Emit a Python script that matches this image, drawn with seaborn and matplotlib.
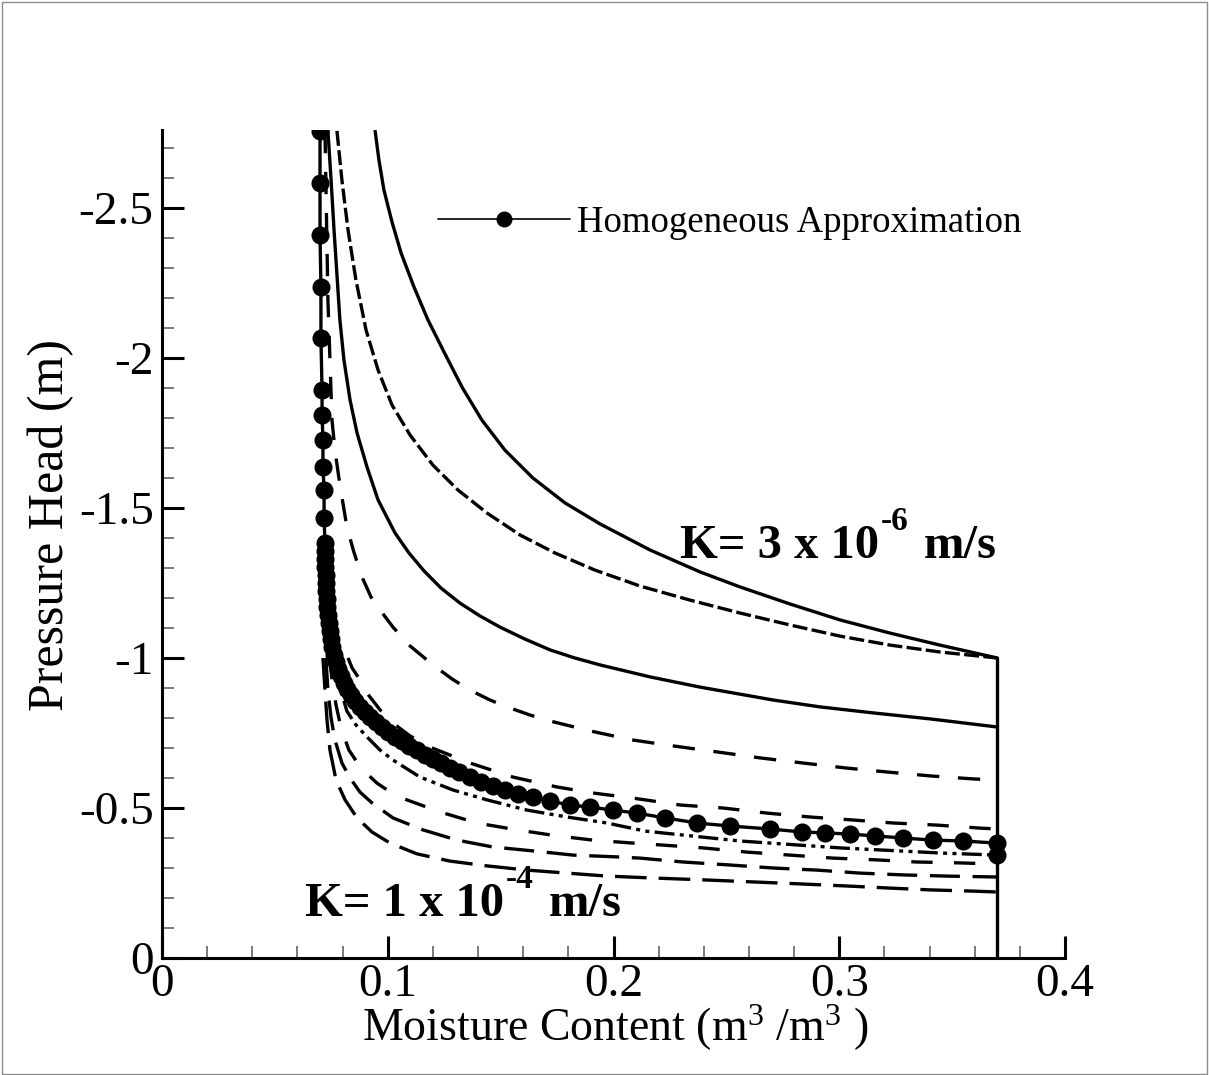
import matplotlib
matplotlib.use("Agg")
import matplotlib.pyplot as plt
import seaborn as sns
from matplotlib.ticker import MultipleLocator, FixedLocator, FixedFormatter
from matplotlib.lines import Line2D
from matplotlib.patches import Rectangle

# ---------------- data ----------------
xticks = [0.0, 0.1, 0.2, 0.3, 0.4]
xtick_labels = ["0", "0.1", "0.2", "0.3", "0.4"]
yticks = [0.0, -0.5, -1.0, -1.5, -2.0, -2.5]
ytick_labels = ["0", "-0.5", "-1", "-1.5", "-2", "-2.5"]

# K = 3e-6 group (upper curves)
s1_x = [0.0944, 0.0961, 0.0983, 0.1019, 0.1059, 0.1116, 0.1178, 0.1254, 0.1329, 0.1417, 0.1519, 0.1643,
        0.1785, 0.1940, 0.2162, 0.2383, 0.2560, 0.2782, 0.3003, 0.3225, 0.3446, 0.3700]
s1_y = [-2.757, -2.66, -2.56, -2.453, -2.35, -2.237, -2.127, -2.013, -1.903, -1.793, -1.693, -1.6,
        -1.517, -1.447, -1.36, -1.287, -1.237, -1.18, -1.127, -1.083, -1.043, -1.0]

d1_x = [0.0775, 0.0797, 0.0824, 0.0859, 0.0904, 0.0957, 0.1019, 0.1099, 0.1200, 0.1311, 0.1440, 0.1586,
        0.1741, 0.1918, 0.2117, 0.2339, 0.2560, 0.2782, 0.3003, 0.3225, 0.3446, 0.3700]
d1_y = [-2.757, -2.593, -2.427, -2.26, -2.093, -1.96, -1.843, -1.743, -1.643, -1.56, -1.483, -1.41,
        -1.35, -1.293, -1.24, -1.193, -1.15, -1.11, -1.073, -1.043, -1.02, -1.0]

s2_x = [0.0735, 0.0749, 0.0762, 0.0775, 0.0788, 0.0806, 0.0833, 0.0864, 0.0908, 0.0957, 0.1032, 0.1094,
        0.1161, 0.1236, 0.1320, 0.1409, 0.1497, 0.1608, 0.1719, 0.1829, 0.1940, 0.2051, 0.2162, 0.2383,
        0.2707, 0.2915, 0.3150, 0.3402, 0.3700]
s2_y = [-2.757, -2.593, -2.427, -2.277, -2.127, -1.993, -1.86, -1.75, -1.637, -1.527, -1.417, -1.35,
        -1.29, -1.233, -1.183, -1.14, -1.103, -1.063, -1.027, -1.0, -0.977, -0.957, -0.937, -0.903,
        -0.86, -0.837, -0.817, -0.797, -0.77]

d2_x = [0.0722, 0.0735, 0.0744, 0.0753, 0.0766, 0.0788, 0.0819, 0.0850, 0.0886, 0.0926, 0.0966, 0.1023,
        0.1099, 0.1200, 0.1285, 0.1364, 0.1453, 0.1528, 0.1630, 0.1719, 0.1896, 0.2082, 0.2264, 0.2458,
        0.2649, 0.2839, 0.3034, 0.3212, 0.3402, 0.3592, 0.3700]
d2_y = [-2.757, -2.193, -1.993, -1.793, -1.693, -1.577, -1.437, -1.353, -1.27, -1.203, -1.16, -1.103,
        -1.04, -0.977, -0.93, -0.893, -0.86, -0.837, -0.81, -0.79, -0.757, -0.727, -0.707, -0.687,
        -0.667, -0.65, -0.633, -0.62, -0.607, -0.597, -0.593]

# K = 1e-4 group (lower curves)
d3_x = [0.0824, 0.0842, 0.0877, 0.0908, 0.0966, 0.1023, 0.1099, 0.1187, 0.1364, 0.1555, 0.1750, 0.1909, 0.2086,
        0.2295, 0.2485, 0.2680, 0.2870, 0.3061, 0.3238, 0.3433, 0.3623, 0.3700]
d3_y = [-1.0, -0.967, -0.927, -0.883, -0.827, -0.783, -0.74, -0.703, -0.65, -0.603, -0.57, -0.55, -0.533,
        -0.51, -0.5, -0.483, -0.47, -0.46, -0.45, -0.443, -0.433, -0.43]

dd_x = [0.0762, 0.0780, 0.0802, 0.0819, 0.0859, 0.0908, 0.0966, 0.1023, 0.1143, 0.1289, 0.1440, 0.1617, 0.1794,
        0.1971, 0.2140, 0.2560, 0.3003, 0.3446, 0.3700]
dd_y = [-1.0, -0.927, -0.867, -0.823, -0.777, -0.737, -0.693, -0.66, -0.603, -0.56, -0.527, -0.493, -0.47,
        -0.45, -0.423, -0.39, -0.367, -0.35, -0.343]

d4_x = [0.0744, 0.0753, 0.0771, 0.0793, 0.0828, 0.0882, 0.0952, 0.1032, 0.1085, 0.1231, 0.1395, 0.1573, 0.1750,
        0.1909, 0.2086, 0.2206, 0.2396, 0.2591, 0.2782, 0.2972, 0.3167, 0.3344, 0.3535, 0.3700]
d4_y = [-1.0, -0.927, -0.843, -0.767, -0.693, -0.633, -0.583, -0.543, -0.527, -0.487, -0.45, -0.427, -0.407,
        -0.393, -0.383, -0.377, -0.367, -0.353, -0.343, -0.333, -0.327, -0.32, -0.317, -0.313]

d5_x = [0.0726, 0.0735, 0.0749, 0.0766, 0.0797, 0.0833, 0.0877, 0.0930, 0.1023, 0.1156, 0.1307, 0.1466, 0.1643,
        0.1821, 0.2016, 0.2117, 0.2308, 0.2516, 0.2707, 0.2901, 0.3092, 0.3282, 0.3477, 0.3700]
d5_y = [-1.0, -0.893, -0.8, -0.727, -0.65, -0.6, -0.553, -0.517, -0.467, -0.427, -0.393, -0.37, -0.357,
        -0.343, -0.337, -0.333, -0.32, -0.31, -0.3, -0.293, -0.283, -0.277, -0.273, -0.27]

d6_x = [0.0713, 0.0722, 0.0731, 0.0744, 0.0771, 0.0811, 0.0864, 0.0930, 0.1010, 0.1130, 0.1276, 0.1440, 0.1617,
        0.1794, 0.1971, 0.2162, 0.2414, 0.2636, 0.2826, 0.3034, 0.3225, 0.3402, 0.3592, 0.3700]
d6_y = [-1.0, -0.893, -0.793, -0.693, -0.593, -0.527, -0.467, -0.42, -0.383, -0.347, -0.323, -0.307, -0.293,
        -0.283, -0.273, -0.267, -0.26, -0.253, -0.247, -0.24, -0.233, -0.227, -0.223, -0.22]

# outlet boundary
wall_x = [0.37, 0.37]
wall_y = [0.0, -1.0]

# Homogeneous approximation (markers)
homog_x = [0.0700, 0.0700, 0.0700, 0.0704, 0.0704, 0.0709, 0.0709, 0.0713, 0.0713, 0.0718, 0.0718,
           0.0722, 0.0722, 0.0722, 0.0722, 0.0726, 0.0726, 0.0726, 0.0731, 0.0731, 0.0735, 0.0740,
           0.0744, 0.0749, 0.0753, 0.0762, 0.0771, 0.0780, 0.0793, 0.0806, 0.0819, 0.0837, 0.0855,
           0.0877, 0.0899, 0.0921, 0.0948, 0.0975, 0.1001, 0.1032, 0.1063, 0.1094, 0.1130, 0.1165,
           0.1200, 0.1236, 0.1276, 0.1316, 0.1364, 0.1413, 0.1466, 0.1519, 0.1577, 0.1643, 0.1719,
           0.1807, 0.1896, 0.1998, 0.2104, 0.2228, 0.2370, 0.2516, 0.2693, 0.2835, 0.2937, 0.3048,
           0.3158, 0.3282, 0.3415, 0.3548, 0.3700, 0.3700]
homog_y = [-2.757, -2.583, -2.41, -2.237, -2.067, -1.893, -1.81, -1.727, -1.637, -1.56, -1.467,
           -1.383, -1.357, -1.33, -1.303, -1.277, -1.25, -1.223, -1.197, -1.17, -1.143, -1.117,
           -1.09, -1.063, -1.037, -1.01, -0.987, -0.963, -0.94, -0.917, -0.897, -0.877, -0.857,
           -0.837, -0.82, -0.803, -0.787, -0.77, -0.753, -0.737, -0.723, -0.707, -0.693, -0.677,
           -0.663, -0.65, -0.633, -0.62, -0.603, -0.587, -0.573, -0.56, -0.547, -0.537, -0.523,
           -0.51, -0.503, -0.493, -0.483, -0.467, -0.45, -0.44, -0.43, -0.42, -0.417, -0.413,
           -0.407, -0.4, -0.393, -0.39, -0.383, -0.343]

legend_label = "Homogeneous Approximation"
xlabel = "Moisture Content (m$^3$ /m$^3$ )"
ylabel = "Pressure Head (m)"

# ---------------- style ----------------
sns.set_style("white")
plt.rcParams["font.family"] = ["Liberation Serif", "DejaVu Serif"]
plt.rcParams["mathtext.fontset"] = "custom"
plt.rcParams["mathtext.rm"] = "Liberation Serif"
plt.rcParams["mathtext.it"] = "Liberation Serif:italic"
plt.rcParams["mathtext.bf"] = "Liberation Serif:bold"
plt.rcParams["axes.unicode_minus"] = False
for key in ["text.color", "axes.labelcolor", "xtick.color", "ytick.color", "axes.edgecolor"]:
    plt.rcParams[key] = "black"

W, H = 1209, 1075
fig = plt.figure(figsize=(W / 100, H / 100), dpi=100)
fig.patch.set_facecolor("white")
ax = fig.add_axes([162 / W, (H - 958) / H, (1065 - 162) / W, (958 - 130) / H])
ax.set_facecolor("white")

LW = 2.4


def curve(x, y, ls, **kw):
    sns.lineplot(x=x, y=y, ax=ax, sort=False, estimator=None, color="black",
                 linewidth=LW, linestyle=ls, legend=False, **kw)


curve(wall_x, wall_y, "-")
curve(s1_x, s1_y, "-")
curve(d1_x, d1_y, (0, (4.5, 1.3)))
curve(s2_x, s2_y, "-")
curve(d2_x, d2_y, (0, (6.7, 5.6)))
curve(d3_x, d3_y, (0, (6.4, 6.2)))
curve(dd_x, dd_y, (0, (6.0, 1.6, 1.2, 1.6, 1.2, 1.6)))
curve(d4_x, d4_y, (0, (6.4, 6.4)))
curve(d5_x, d5_y, (0, (9.0, 3.8)))
curve(d6_x, d6_y, (0, (9.5, 3.6)))
curve(homog_x, homog_y, "-", marker="o", markersize=13,
      markerfacecolor="black", markeredgecolor="black", markeredgewidth=0)

# ---------------- axes ----------------
ax.set_xlim(0, 0.4)
ax.set_ylim(0, -2.76)
ax.xaxis.set_major_locator(FixedLocator(xticks))
ax.xaxis.set_major_formatter(FixedFormatter(xtick_labels))
ax.yaxis.set_major_locator(FixedLocator(yticks))
ax.yaxis.set_major_formatter(FixedFormatter(ytick_labels))
ax.xaxis.set_minor_locator(MultipleLocator(0.02))
ax.yaxis.set_minor_locator(MultipleLocator(0.1))

for side in ["top", "right"]:
    ax.spines[side].set_visible(False)
for side in ["left", "bottom"]:
    ax.spines[side].set_visible(True)
    ax.spines[side].set_linewidth(2.2)
    ax.spines[side].set_color("black")

ax.tick_params(which="both", bottom=True, left=True, top=False, right=False)
ax.tick_params(which="major", direction="in", length=16, width=2.2, color="black",
               labelsize=34, labelcolor="black")
ax.tick_params(axis="x", which="major", pad=4)
ax.tick_params(axis="y", which="major", pad=6)
ax.tick_params(which="minor", direction="in", length=8.5, width=1.1, color="#555555")

ax.set_xlabel(xlabel, fontsize=33)
ax.set_ylabel(ylabel, fontsize=36)
ax.xaxis.set_label_coords((615 - 162) / 903, (958 - 1003) / 828)
ax.yaxis.set_label_coords((74 - 162) / 903, (958 - 525) / 828)

# ---------------- annotations ----------------
def k_label(x, y, base, sup):
    t1 = ax.text(x, y, base, fontsize=35, fontweight="bold", ha="left", va="baseline")
    t2 = ax.annotate(sup, xy=(1, 0), xycoords=(t1, t1), xytext=(1, 22),
                     textcoords="offset points", fontsize=24, fontweight="bold",
                     ha="left", va="bottom")
    ax.annotate("m/s", xy=(1, 0), xycoords=(t2, t1), xytext=(11, 0),
                textcoords="offset points", fontsize=35, fontweight="bold",
                ha="left", va="bottom")


k_label((680 - 162) / 2257.5, (558 - 958) / 300, "K= 3 x 10", "-6")
k_label((305 - 162) / 2257.5, (916 - 958) / 300, "K= 1 x 10", "-4")

# ---------------- legend ----------------
proxy = Line2D([], [], color="black", linewidth=1.2, marker="o", markersize=11.5,
               markerfacecolor="black", markeredgewidth=0)
fs_leg = 26.5
leg = ax.legend([proxy], [legend_label], loc="center left",
                bbox_to_anchor=(438 / W, 1 - 223 / H), bbox_transform=fig.transFigure,
                frameon=False, fontsize=fs_leg, handlelength=132 / (fs_leg * 100 / 72),
                handletextpad=7 / (fs_leg * 100 / 72), borderpad=0, borderaxespad=0,
                numpoints=1)

# thin frame around the picture
fig.patches.append(Rectangle((1.5 / W, 1.5 / H), 1 - 3.5 / W, 1 - 3.5 / H,
                             transform=fig.transFigure, fill=False,
                             edgecolor="#8c8c8c", linewidth=1.0))

fig.savefig("out.png", dpi=100, facecolor="white")
